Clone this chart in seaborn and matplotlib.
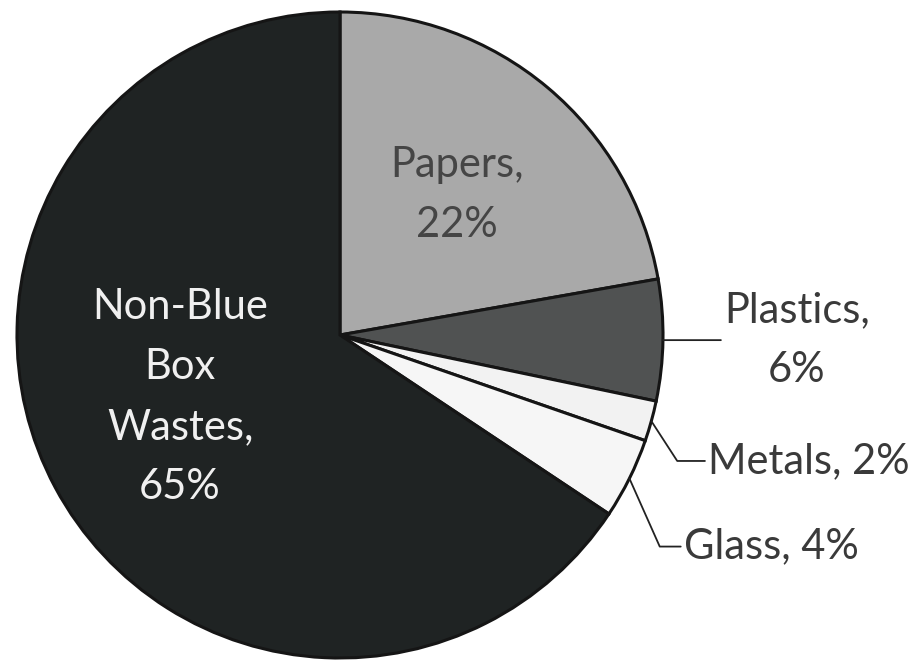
import matplotlib
matplotlib.use("Agg")
import matplotlib.pyplot as plt
import seaborn as sns
import numpy as np

# data
categories = ["Papers", "Plastics", "Metals", "Glass", "Non-Blue\nBox\nWastes"]
shares = [22, 6, 2, 4, 65]
colors = ["#a9a9a9", "#505252", "#f2f2f2", "#f6f6f6", "#1f2323"]

sns.set_style("white")
plt.rcParams["font.family"] = ["Lato", "DejaVu Sans"]

W, H, R = 924, 663, 323.0     # figure px, pie radius px
cx, cy = 340, 335             # pie centre px (from top-left)

fig = plt.figure(figsize=(W / 100, H / 100), dpi=100, facecolor="white")
ax = fig.add_axes([0, 0, 1, 1])
wedges, _ = ax.pie(shares, colors=colors, startangle=90, counterclock=False,
                   wedgeprops=dict(edgecolor="#151515", linewidth=2.2))
ax.set_xlim(-cx / R, (W - cx) / R)
ax.set_ylim(-(H - cy) / R, cy / R)
ax.axis("off")

labels = [f"{c}, {v}%" if c in ("Metals", "Glass") else f"{c},\n{v}%"
          for c, v in zip(categories, shares)]

fs = 30
ls = 1.72
# inside labels
ax.text(0.362, 0.433, labels[0], ha="center", va="center", fontsize=fs,
        color="#454545", linespacing=ls)
ax.text(-0.495, -0.192, labels[4], ha="center", va="center", fontsize=fs,
        color="#f0f0f0", linespacing=ls)


def edge_point(w):
    a = np.deg2rad((w.theta1 + w.theta2) / 2)
    return np.cos(a), np.sin(a)

# outside labels with leader lines
line = dict(arrowstyle="-", color="#222222", lw=1.3)
ex, ey = edge_point(wedges[1])
ax.annotate(labels[1], xy=(ex, ey), xytext=(1.415, ey),
            ha="center", va="center", fontsize=fs, color="#3a3a3a",
            linespacing=ls,
            arrowprops=dict(**line, relpos=(0, 0.5), shrinkA=0, shrinkB=0))
ax.annotate(labels[2], xy=edge_point(wedges[2]), xytext=(1.14, -0.39),
            ha="left", va="center", fontsize=fs, color="#3a3a3a",
            arrowprops=dict(**line, relpos=(0, 0.5), shrinkA=0, shrinkB=0,
                            connectionstyle="angle,angleA=0,angleB=-57,rad=0"))
ax.annotate(labels[3], xy=edge_point(wedges[3]), xytext=(1.065, -0.655),
            ha="left", va="center", fontsize=fs, color="#3a3a3a",
            arrowprops=dict(**line, relpos=(0, 0.5), shrinkA=0, shrinkB=0,
                            connectionstyle="angle,angleA=0,angleB=-66,rad=0"))

fig.savefig("out.png", dpi=100, facecolor="white")
